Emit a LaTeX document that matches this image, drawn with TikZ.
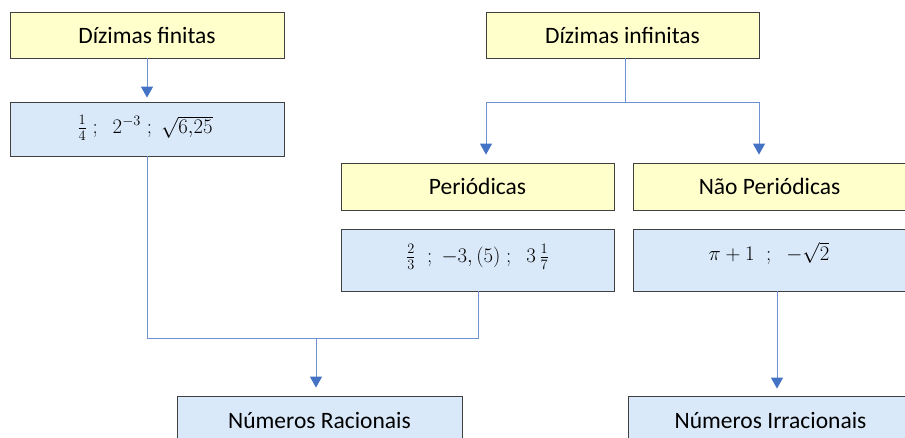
\documentclass[tikz,border=0pt]{standalone}
\usepackage[no-math]{fontspec}
\setmainfont{Carlito}
\usetikzlibrary{arrows.meta}
\definecolor{boxyellow}{RGB}{255,255,204}
\definecolor{boxblue}{RGB}{218,233,250}
\definecolor{boxedge}{RGB}{64,64,64}
\definecolor{linkblue}{RGB}{68,114,196}
\definecolor{linklight}{RGB}{110,145,210}
\tikzset{
  box/.style={draw=boxedge, line width=0.8pt, inner sep=0pt, align=center,
    font=\fontsize{23.5}{28}\selectfont},
  ybox/.style={box, fill=boxyellow},
  bbox/.style={box, fill=boxblue},
  link/.style={draw=linklight, line width=0.9pt},
  arrowlink/.style={link, -{Triangle[width=12pt,length=11pt,color=linkblue]}},
  mathtext/.style={inner sep=0pt, font=\fontsize{21}{25}\selectfont}
}
\begin{document}
\begin{tikzpicture}[x=1pt,y=-1pt]
\useasboundingbox (0,0) rectangle (905,437);
% boxes
\node[ybox, minimum width=274pt, minimum height=46pt] (fin) at (147,35) {Dízimas finitas};
\node[bbox, minimum width=274pt, minimum height=54pt] (finm) at (147,129) {};
\node[mathtext] (finmt) at (145,128) {$\frac{1}{4}\;;\;\;2^{-3}\;;\;\sqrt{6{,}25}$};
\node[ybox, minimum width=273pt, minimum height=46pt] (inf) at (622.5,35) {Dízimas infinitas};
\node[ybox, minimum width=273pt, minimum height=47pt] (per) at (477.5,186.5) {Periódicas};
\node[bbox, minimum width=273pt, minimum height=62pt] (perm) at (477.5,260) {};
\node[mathtext] (permt) at (477.5,257) {$\frac{2}{3}\;\;;\;-3,(5)\;;\;\;3\,\frac{1}{7}$};
\node[ybox, minimum width=273pt, minimum height=47pt] (nper) at (769.5,186.5) {Não Periódicas};
\node[bbox, minimum width=273pt, minimum height=62pt] (nperm) at (769.5,260) {};
\node[mathtext] (npermt) at (769,253) {$\pi+1\;\;;\;\;-\sqrt{2}$};
\node[bbox, minimum width=285pt, minimum height=48pt] (rac) at (319.5,420) {Números Racionais};
\node[bbox, minimum width=285pt, minimum height=48pt] (irr) at (770.5,420) {Números Irracionais};
% junction coordinates
\coordinate (jinf) at (625,102);
\coordinate (jl) at (486,102);
\coordinate (jr) at (759,102);
\coordinate (jbl) at (147,338);
\coordinate (jbr) at (478,338);
\coordinate (jbm) at (316,338);
\coordinate (jirr) at (777,291);
% connectors
\draw[arrowlink, shorten >=4pt] (fin.south) -- (finm.north);
\draw[link] (inf.south -| jinf) -- (jinf);
\draw[link] (jl) -- (jr);
\draw[arrowlink, shorten >=8pt] (jl) -- (jl |- per.north);
\draw[arrowlink, shorten >=8pt] (jr) -- (jr |- nper.north);
\draw[link] (finm.south) -- (jbl) -- (jbr) -- (perm.south -| jbr);
\draw[arrowlink, shorten >=8pt] (jbm) -- (jbm |- rac.north);
\draw[arrowlink, shorten >=7pt] (jirr) -- (jirr |- irr.north);
\end{tikzpicture}
\end{document}
